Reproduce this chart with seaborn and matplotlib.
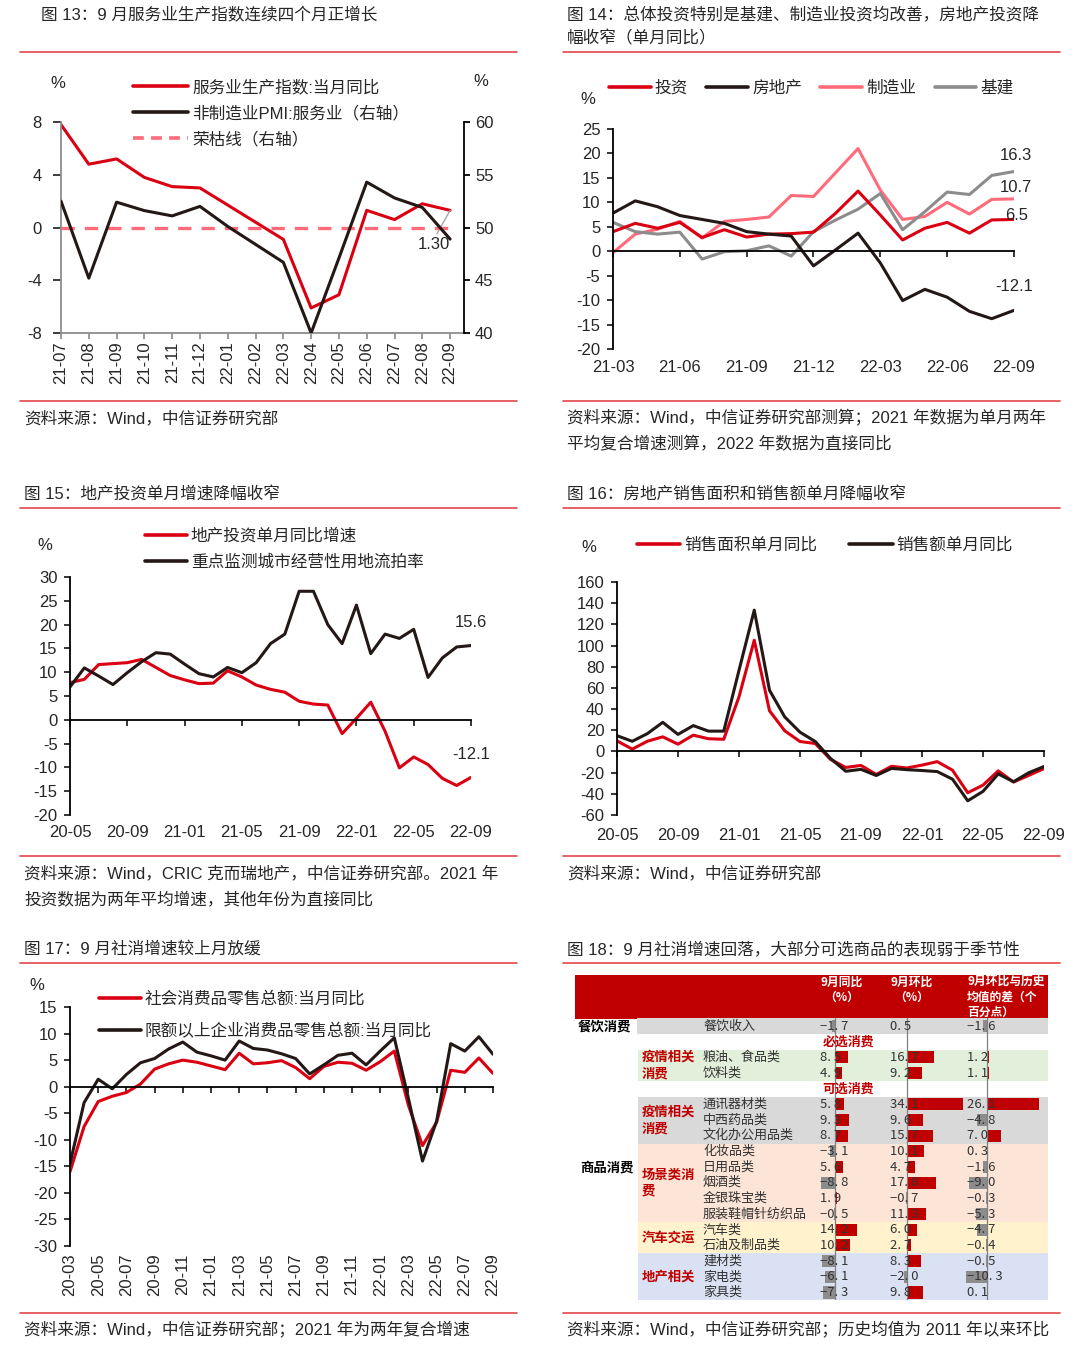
import numpy as np
import pandas as pd
import seaborn as sns
import matplotlib.pyplot as plt
from matplotlib.lines import Line2D
from matplotlib.patches import Rectangle

# ---------------- data ----------------
m13 = pd.date_range("2021-07", "2022-09", freq="MS").strftime("%y-%m").tolist()
svc_prod = [7.8, 4.8, 5.2, 3.8, 3.1, 3.0, 1.7, 0.4, -0.9, -6.1, -5.1, 1.3, 0.6, 1.8, 1.3]
pmi_svc = [52.5, 45.2, 52.4, 51.6, 51.1, 52.0, 50.1, 48.4, 46.7, 40.0, 47.1, 54.3, 52.8, 51.9, 48.9]
boom_line = [50] * 15

m14 = pd.date_range("2021-03", "2022-09", freq="MS").strftime("%y-%m").tolist()
inv_total = [4.0, 5.7, 4.7, 5.9, 2.8, 4.4, 2.9, 3.5, 3.6, 3.9, 7.8, 12.3, 7.4, 2.3, 4.7, 5.9, 3.7, 6.4, 6.5]
inv_estate = [7.8, 10.3, 9.1, 7.3, 6.5, 5.7, 4.0, 3.5, 3.1, -3.0, 0.3, 3.7, -2.4, -10.1, -7.8, -9.4, -12.3, -13.8, -12.1]
inv_manu = [-0.3, 3.5, 4.5, 6.1, 2.7, 6.1, 6.5, 7.0, 11.4, 11.2, 16.1, 21.0, 12.5, 6.5, 7.1, 10.0, 7.6, 10.6, 10.7]
inv_infra = [5.9, 4.0, 3.5, 3.9, -1.6, -0.1, 0.1, 1.1, -1.0, 4.0, 6.4, 8.6, 11.8, 4.4, 8.1, 12.1, 11.6, 15.5, 16.3]

m15 = pd.date_range("2020-05", "2022-09", freq="MS").strftime("%y-%m").tolist()
est_inv = [7.8, 8.5, 11.6, 11.8, 12.0, 12.7, 11.0, 9.3, 8.4, 7.6, 7.7, 10.3, 9.0, 7.3, 6.4, 5.8,
           3.9, 3.3, 3.1, -2.9, 0.3, 3.7, -2.4, -10.1, -7.8, -9.4, -12.3, -13.8, -12.1]
land_fail = [6.9, 10.9, 9.2, 7.4, 9.9, 12.2, 14.1, 13.8, 11.7, 9.7, 9.0, 11.0, 9.9, 12.0, 16.0, 18.0,
             27.0, 27.0, 20.0, 16.0, 24.1, 13.9, 18.0, 17.1, 19.0, 8.9, 13.0, 15.3, 15.6]

sales_area = [10.0, 2.2, 9.7, 13.8, 6.9, 15.4, 12.0, 11.5, 51.6, 105.0, 38.4, 19.5, 9.4, 7.5, -7.5,
              -15.1, -13.2, -21.7, -14.0, -15.6, -12.9, -9.6, -17.7, -39.0, -31.8, -18.3, -28.9, -22.6, -16.2]
sales_value = [14.9, 9.6, 16.9, 27.5, 16.1, 24.4, 19.2, 19.2, 76.6, 133.4, 57.8, 32.6, 18.2, 9.4, -6.6,
               -18.7, -16.9, -22.7, -16.0, -17.2, -18.0, -19.0, -26.2, -46.6, -37.7, -21.2, -28.6, -20.1, -14.2]

m17 = pd.date_range("2020-03", "2022-09", freq="MS").strftime("%y-%m").tolist()
retail = [-16.0, -7.5, -2.8, -1.8, -1.1, 0.5, 3.3, 4.3, 5.0, 4.6, 3.9, 3.2, 6.3, 4.3, 4.5, 4.9,
          3.6, 1.5, 3.8, 4.6, 4.4, 3.1, 4.7, 6.7, -3.5, -11.1, -6.7, 3.1, 2.7, 5.4, 2.5]
retail_above = [-14.5, -3.0, 1.4, -0.4, 2.3, 4.5, 5.3, 7.1, 8.4, 6.5, 5.8, 5.0, 8.6, 7.2, 6.9, 6.2,
                5.3, 2.4, 4.1, 5.9, 6.3, 4.1, 6.7, 9.2, -2.2, -14.0, -6.5, 8.1, 6.7, 9.4, 6.1]

tbl_items = ["餐饮收入", "粮油、食品类", "饮料类", "通讯器材类", "中西药品类", "文化办公用品类",
             "化妆品类", "日用品类", "烟酒类", "金银珠宝类", "服装鞋帽针纺织品", "汽车类",
             "石油及制品类", "建材类", "家电类", "家具类"]
tbl_yoy = [-1.7, 8.5, 4.9, 5.8, 9.3, 8.7, -3.1, 5.6, -8.8, 1.9, -0.5, 14.2, 10.2, -8.1, -6.1, -7.3]
tbl_mom = [0.5, 16.7, 9.2, 34.1, 9.6, 15.7, 10.1, 4.7, 17.8, -0.7, 11.3, 6.0, 2.7, 8.3, -2.0, 9.8]
tbl_diff = [-1.6, 1.2, 1.1, 26.1, -4.8, 7.0, 0.3, -1.6, -9.0, -0.3, -5.3, -4.7, -0.4, -0.5, -10.3, 0.1]
tbl_slots = [0, 2, 3, 5, 6, 7, 8, 9, 10, 11, 12, 13, 14, 15, 16, 17]

# ---------------- style ----------------
sns.set_theme(style="white")
plt.rcParams["font.family"] = ["Liberation Sans", "Noto Sans CJK SC"]
plt.rcParams["axes.unicode_minus"] = False

RED = "#DA0012"
BLACK = "#231815"
PINK = "#FF6B7A"
GREY = "#8C8C8C"
RULE = "#E3474D"
TXT = "#262626"
CJK = ["Noto Sans CJK SC"]

W, H = 1080, 1354
fig = plt.figure(figsize=(W / 100, H / 100), dpi=100)


def px_axes(l, t, r, b):
    return fig.add_axes([l / W, 1 - b / H, (r - l) / W, (b - t) / H])


def ptext(x, y, s, **kw):
    kw.setdefault("va", "center")
    kw.setdefault("color", TXT)
    fig.text(x / W, 1 - y / H, s, **kw)


def rule(y, x0, x1):
    fig.add_artist(Line2D([x0 / W, x1 / W], [1 - y / H, 1 - y / H], color=RULE, lw=1.2))


def legend(ax, handles, labels, x, y, ncol=1, hl=2.6, cs=1.0, ls=0.5):
    ax.legend(handles, labels, loc="upper left", bbox_to_anchor=(x / W, 1 - y / H),
              bbox_transform=fig.transFigure, ncol=ncol, frameon=False, fontsize=12,
              handlelength=hl, handletextpad=0.25, columnspacing=cs, labelspacing=ls,
              borderpad=0, borderaxespad=0, labelcolor=TXT)


def h(color, **kw):
    return Line2D([], [], color=color, lw=2.6, **kw)


def zero_style(ax, ticks, labels, pad, rot=0):
    for s in ["top", "right"]:
        ax.spines[s].set_visible(False)
    ax.spines["bottom"].set_position(("data", 0))
    for s in ["left", "bottom"]:
        ax.spines[s].set_color("black")
        ax.spines[s].set_linewidth(1.3)
    ax.set_xticks(ticks)
    ax.set_xticklabels(labels, rotation=rot)
    ax.tick_params(axis="x", bottom=True, direction="out", length=4, width=1.3,
                   pad=pad, labelsize=12, labelcolor=TXT)
    ax.tick_params(axis="y", left=True, direction="out", length=4, width=1.3,
                   pad=5, labelsize=12, labelcolor=TXT)
    ax.set_xlabel("")
    ax.set_ylabel("")
    ax.grid(False)


# ---------------- frame: titles, rules, sources ----------------
FS = 12
ptext(41, 15, "图 13：9 月服务业生产指数连续四个月正增长", fontsize=FS)
ptext(567, 15, "图 14：总体投资特别是基建、制造业投资均改善，房地产投资降", fontsize=FS)
ptext(567, 38, "幅收窄（单月同比）", fontsize=FS)
ptext(24, 494, "图 15：地产投资单月增速降幅收窄", fontsize=FS)
ptext(567, 494, "图 16：房地产销售面积和销售额单月降幅收窄", fontsize=FS)
ptext(24, 949, "图 17：9 月社消增速较上月放缓", fontsize=FS)
ptext(567, 949, "图 18：9 月社消增速回落，大部分可选商品的表现弱于季节性", fontsize=FS)

for y in [52, 401, 508, 856, 963, 1313]:
    rule(y, 20, 517)
    rule(y, 563, 1060)

ptext(24, 418, "资料来源：Wind，中信证券研究部", fontsize=FS)
ptext(567, 418, "资料来源：Wind，中信证券研究部测算；2021 年数据为单月两年", fontsize=FS)
ptext(567, 444, "平均复合增速测算，2022 年数据为直接同比", fontsize=FS)
ptext(24, 873, "资料来源：Wind，CRIC 克而瑞地产，中信证券研究部。2021 年", fontsize=FS)
ptext(24, 899, "投资数据为两年平均增速，其他年份为直接同比", fontsize=FS)
ptext(567, 873, "资料来源：Wind，中信证券研究部", fontsize=FS)
ptext(24, 1329, "资料来源：Wind，中信证券研究部；2021 年为两年复合增速", fontsize=FS)
ptext(567, 1329, "资料来源：Wind，中信证券研究部；历史均值为 2011 年以来环比", fontsize=FS)

# ---------------- chart 13 ----------------
x13 = np.arange(len(m13))
ax = px_axes(61, 122, 464, 333)
sns.lineplot(x=x13, y=svc_prod, ax=ax, color=RED, linewidth=2.2)
ax.set_xlim(0, 14.5)
ax.set_ylim(-8, 8)
ax.set_yticks([-8, -4, 0, 4, 8])
ax.set_xticks(x13)
ax.set_xticklabels(m13, rotation=90)
ax.tick_params(axis="x", bottom=True, direction="out", length=4, color=GREY, pad=2,
               labelsize=12, labelcolor=TXT)
ax.tick_params(axis="y", left=False, pad=8, labelsize=12, labelcolor=TXT)
for s in ["top", "right"]:
    ax.spines[s].set_visible(False)
for s in ["left", "bottom"]:
    ax.spines[s].set_color(GREY)
    ax.spines[s].set_linewidth(1.3)
ax.grid(False)
ax.annotate("1.30", xy=(14, svc_prod[-1]), xytext=(13.4, -1.3), ha="center", va="center",
            fontsize=12, color=TXT,
            arrowprops=dict(arrowstyle="-", color="#A6A6A6", lw=1, relpos=(0.55, 1.0),
                            shrinkA=0, shrinkB=0))

ax2 = ax.twinx()
ax2.plot(x13, boom_line, color=PINK, lw=2.4, linestyle=(0, (4, 3)))
sns.lineplot(x=x13, y=pmi_svc, ax=ax2, color=BLACK, linewidth=2.2)
ax2.set_ylim(40, 60)
ax2.set_yticks([40, 45, 50, 55, 60])
ax2.set_ylabel("")
ax2.tick_params(axis="y", right=True, direction="out", length=4, width=1.3, color="black",
                pad=4, labelsize=12, labelcolor=TXT)
for s in ["top", "left", "bottom"]:
    ax2.spines[s].set_visible(False)
ax2.spines["right"].set_color("black")
ax2.spines["right"].set_linewidth(1.3)
ax2.grid(False)
legend(ax2, [h(RED), h(BLACK), h(PINK, linestyle=(0, (3, 2)))],
       ["服务业生产指数:当月同比", "非制造业PMI:服务业（右轴）", "荣枯线（右轴）"],
       133, 79, hl=3.3, ls=0.62)
ptext(58, 84, "%", fontsize=12, ha="center")
ptext(481, 82, "%", fontsize=12, ha="center")

# ---------------- chart 14 ----------------
x14 = np.arange(len(m14))
ax = px_axes(613, 129, 1014, 349)
sns.lineplot(x=x14, y=inv_manu, ax=ax, color=PINK, linewidth=2.2)
sns.lineplot(x=x14, y=inv_infra, ax=ax, color=GREY, linewidth=2.2)
sns.lineplot(x=x14, y=inv_total, ax=ax, color=RED, linewidth=2.2)
sns.lineplot(x=x14, y=inv_estate, ax=ax, color=BLACK, linewidth=2.2)
ax.set_xlim(0, 18)
ax.set_ylim(-20, 25)
ax.set_yticks(range(-20, 30, 5))
zero_style(ax, x14[::3], m14[::3], pad=74)
ax.text(18.1, 19.6, "16.3", fontsize=12, ha="center", va="center", color=TXT)
ax.text(18.1, 13.0, "10.7", fontsize=12, ha="center", va="center", color=TXT)
ax.text(18.1, 7.4, "6.5", fontsize=12, ha="center", va="center", color=TXT)
ax.text(18.0, -7.3, "-12.1", fontsize=12, ha="center", va="center", color=TXT)
legend(ax, [h(RED), h(BLACK), h(PINK), h(GREY)], ["投资", "房地产", "制造业", "基建"],
       609, 80, ncol=4, hl=2.5, cs=1.1)
ptext(588, 100, "%", fontsize=12, ha="center")

# ---------------- chart 15 ----------------
x15 = np.arange(len(m15))
ax = px_axes(70, 577, 471, 815)
sns.lineplot(x=x15, y=est_inv, ax=ax, color=RED, linewidth=2.2)
sns.lineplot(x=x15, y=land_fail, ax=ax, color=BLACK, linewidth=2.2)
ax.set_xlim(0, 28)
ax.set_ylim(-20, 30)
ax.set_yticks(range(-20, 35, 5))
zero_style(ax, x15[::4], m15[::4], pad=72)
ax.text(28, 20.5, "15.6", fontsize=12, ha="center", va="center", color=TXT)
ax.text(28, -7.2, "-12.1", fontsize=12, ha="center", va="center", color=TXT)
legend(ax, [h(RED), h(BLACK)], ["地产投资单月同比增速", "重点监测城市经营性用地流拍率"],
       145, 528, hl=2.5, ls=0.66)
ptext(45, 546, "%", fontsize=12, ha="center")

# ---------------- chart 16 ----------------
x16 = np.arange(len(m15))
ax = px_axes(617, 582, 1044, 815)
sns.lineplot(x=x16, y=sales_area, ax=ax, color=RED, linewidth=2.2)
sns.lineplot(x=x16, y=sales_value, ax=ax, color=BLACK, linewidth=2.2)
ax.set_xlim(0, 28)
ax.set_ylim(-60, 160)
ax.set_yticks(range(-60, 180, 20))
zero_style(ax, x16[::4], m15[::4], pad=51)
legend(ax, [h(RED), h(BLACK)], ["销售面积单月同比", "销售额单月同比"],
       637, 537, ncol=2, hl=2.6, cs=1.9)
ptext(589, 548, "%", fontsize=12, ha="center")

# ---------------- chart 17 ----------------
x17 = np.arange(len(m17))
ax = px_axes(70, 1007, 493, 1246)
sns.lineplot(x=x17, y=retail, ax=ax, color=RED, linewidth=2.2)
sns.lineplot(x=x17, y=retail_above, ax=ax, color=BLACK, linewidth=2.2)
ax.set_xlim(0, 30)
ax.set_ylim(-30, 15)
ax.set_yticks(range(-30, 20, 5))
zero_style(ax, x17[::2], m17[::2], pad=116, rot=90)
legend(ax, [h(RED), h(BLACK)], ["社会消费品零售总额:当月同比", "限额以上企业消费品零售总额:当月同比"],
       99, 991, hl=2.5, ls=0.97)
ptext(37, 986, "%", fontsize=12, ha="center")

# ---------------- table 18 ----------------
def sy(s):
    return 1026 + 15.67 * s


tax = px_axes(570, 974, 1060, 1302)
tax.set_xlim(570, 1060)
tax.set_ylim(1302, 974)
tax.axis("off")
tax.add_patch(Rectangle((575, 975), 473, 43.5, color="#C00000", lw=0))
tax.add_patch(Rectangle((637, sy(-0.5)), 411, 15.67, color="#D9D9D9", lw=0))
groups = [
    ("疫情相关\n消费", 2, 3, "#E2EFDA"),
    ("疫情相关\n消费", 5, 7, "#D9D9D9"),
    ("场景类消\n费", 8, 12, "#FCE4D6"),
    ("汽车交运", 13, 14, "#FFF2CC"),
    ("地产相关", 15, 17, "#D9E1F2"),
]
for label, s0, s1, col in groups:
    tax.add_patch(Rectangle((638, sy(s0 - 0.5)), 410, sy(s1 + 0.5) - sy(s0 - 0.5), color=col, lw=0))
    ptext(642, sy((s0 + s1) / 2), label, fontsize=9.6, color="#C00000", weight="bold",
          family=CJK, linespacing=1.2)

hdr = dict(fontsize=8.5, color="white", weight="bold", family=CJK, linespacing=1.25)
ptext(842, 990, "9月同比\n（%）", ha="center", **hdr)
ptext(912, 990, "9月环比\n（%）", ha="center", **hdr)
ptext(967, 997, "9月环比与历史\n均值的差（个\n百分点）", ha="left", **hdr)
ptext(578, sy(0), "餐饮消费", fontsize=9.6, weight="bold", family=CJK, color="black")
ptext(580, sy(9), "商品消费", fontsize=9.6, weight="bold", family=CJK, color="black")
ptext(848, sy(1), "必选消费", fontsize=9.3, weight="bold", family=CJK, color="#C00000", ha="center")
ptext(848, sy(4), "可选消费", fontsize=9.3, weight="bold", family=CJK, color="#C00000", ha="center")

columns = [
    (tbl_yoy, 834.5, 1.56, 815, 862, 820),
    (tbl_mom, 907.0, 1.64, 895, 966, 890),
    (tbl_diff, 986.7, 2.02, 962, 1046, 967),
]
for vals, zero, scale, l, r, tx in columns:
    cax = px_axes(l, sy(-0.5), r, sy(17.5))
    cax.set_facecolor("none")
    cax.set_xlim((l - zero) / scale, (r - zero) / scale)
    cax.set_ylim(17.5, -0.5)
    cax.barh(tbl_slots, vals, height=0.78,
             color=["#C00000" if v >= 0 else "#8C8C8C" for v in vals], lw=0)
    cax.axvline(0, color="#7F7F7F", lw=0.9)
    cax.axis("off")
    for s, v in zip(tbl_slots, vals):
        txt = f"{v:.1f}".replace("-", "−").replace(".", ". ")
        ptext(tx, sy(s), txt, fontsize=9.4, family=CJK, color="#333333", zorder=5)

for s, name in zip(tbl_slots, tbl_items):
    ptext(703, sy(s), name, fontsize=9.4, family=CJK, color="#333333")

fig.savefig("out.png", dpi=100)
